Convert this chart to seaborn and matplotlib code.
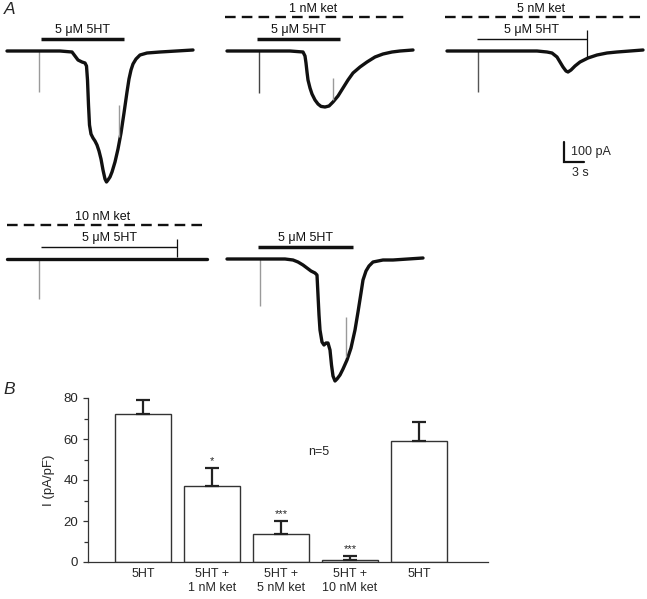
import matplotlib
matplotlib.use("Agg")
import matplotlib.pyplot as plt
import seaborn as sns
import pandas as pd

# =========================
# PANEL A DATA (time in s, current in pA, baseline = 0)
# =========================
t1 = [0, 7.95, 9.75, 10.2, 10.65, 11.25, 11.7, 11.925, 12.075, 12.225, 12.375, 12.6, 12.9, 13.2,
      13.5, 13.8, 14.1, 14.4, 14.7, 14.925, 15.15, 15.45, 15.75, 16.2, 16.65, 17.1, 17.55, 18.0,
      18.3, 18.6, 18.9, 19.35, 19.95, 21.0, 22.95, 27.9]
i1 = [0, 0, -5, -25, -45, -55, -60, -75, -145, -270, -370, -415, -435, -450,
      -470, -500, -540, -595, -640, -655, -645, -630, -605, -555, -490, -410, -310, -205,
      -140, -95, -65, -40, -20, -10, -5, 5]

t2 = [0, 9.45, 11.4, 11.7, 11.85, 12.0, 12.15, 12.45, 12.75, 13.2, 13.65, 14.1, 14.7, 15.3,
      15.9, 16.65, 17.4, 18.15, 18.9, 19.95, 21.0, 22.2, 23.4, 24.75, 25.95, 27.9]
i2 = [0, 0, -5, -25, -60, -105, -145, -185, -215, -245, -265, -277, -280, -275,
      -255, -225, -185, -145, -110, -80, -55, -30, -15, -5, 0, 5]

t3 = [0, 13.5, 15.0, 15.75, 16.5, 16.95, 17.4, 17.85, 18.15, 18.6, 19.2, 19.95, 21.15, 22.5,
      24.0, 25.5, 29.4]
i3 = [0, 0, -5, -10, -30, -55, -80, -100, -105, -95, -75, -55, -35, -20,
      -10, -5, 5]

t4 = [0, 10.0, 20.0, 30.0]
i4 = [0, 0, 0, 0]

t5 = [0, 8.7, 9.9, 10.65, 11.4, 12.0, 12.6, 13.2, 13.5, 13.65, 13.8, 13.95, 14.25, 14.55,
      14.85, 15.15, 15.45, 15.675, 15.9, 16.2, 16.5, 16.95, 17.4, 18.0, 18.6, 19.2, 19.65,
      20.1, 20.4, 20.85, 21.3, 21.9, 23.4, 24.9, 29.4]
i5 = [0, 0, -5, -15, -30, -45, -60, -70, -80, -180, -280, -355, -415, -430,
      -420, -420, -455, -530, -585, -610, -600, -580, -550, -505, -445, -355, -265,
      -170, -105, -60, -35, -15, -5, -5, 5]

traces_t = [t1, t2, t3, t4, t5]
traces_i = [i1, i2, i3, i4, i5]

# 5HT application
ht_on = [5.1, 4.5, 4.5, 5.1, 4.65]
ht_off = [17.55, 16.95, 21.0, 25.5, 18.9]
ht_thick = [True, True, False, False, True]
end_tick_top = [None, None, 105, 100, None]
end_tick_bot = [None, None, -30, 10, None]

# ketanserin
ket_labels = [None, "1 nM ket", "5 nM ket", "10 nM ket", None]
ket_on = [None, -0.3, -0.3, 0.0, None]
ket_off = [None, 27.15, 29.4, 29.55, None]

# stimulus artefacts
art1_t = [4.8, 4.8, 4.65, 4.8, 4.95]
art1_bot = [-205, -210, -205, -200, -235]
art1_col = ["#9a9a9a", "#444444", "#555555", "#9a9a9a", "#9a9a9a"]
art2_t = [16.8, 15.9, None, None, 17.85]
art2_top = [-270, -135, None, None, -290]
art2_bot = [-430, -245, None, None, -490]

scale_s = 3
scale_pa = 100

# =========================
# PANEL B DATA
# =========================
conditions = ["5HT", "5HT +\n1 nM ket", "5HT +\n5 nM ket", "5HT +\n10 nM ket", "5HT"]
current = [72.3, 37.1, 13.7, 0.8, 59.0]
sem = [6.8, 8.8, 6.3, 2.2, 9.3]
stars = ["", "*", "***", "***", ""]

# =========================
# FIGURE
# =========================
sns.set_style("white")
plt.rcParams['font.family'] = ['Liberation Sans', 'DejaVu Sans']

W, H = 647, 599
fig = plt.figure(figsize=(W / 100, H / 100), dpi=100)

S_PER_PX = 0.15
PA_PER_PX = 5.0
trace_pos = [(7, 51), (227, 51), (447, 51), (7, 259), (227, 259)]
INK = "#111111"


def trace_axes(x_start, y_base):
    x0, x1 = x_start - 10, x_start + 215
    y0, y1 = y_base - 60, y_base + 140
    ax = fig.add_axes([x0 / W, 1 - y1 / H, (x1 - x0) / W, (y1 - y0) / H])
    ax.set_xlim((x0 - x_start) * S_PER_PX, (x1 - x_start) * S_PER_PX)
    ax.set_ylim(-(y1 - y_base) * PA_PER_PX, (y_base - y0) * PA_PER_PX)
    ax.axis("off")
    return ax


trace_ax = []
for k in range(5):
    ax = trace_axes(*trace_pos[k])
    trace_ax.append(ax)

    # artefacts
    ax.vlines(art1_t[k], art1_bot[k], 0, color=art1_col[k], lw=1.0, zorder=1)
    if art2_t[k] is not None:
        ax.vlines(art2_t[k], art2_bot[k], art2_top[k], color="#9a9a9a", lw=1.0, zorder=3)

    df = pd.DataFrame({"t": traces_t[k], "I": traces_i[k]})
    sns.lineplot(data=df, x="t", y="I", ax=ax, color=INK, lw=2.4,
                 estimator=None, sort=False, zorder=2)
    ax.lines[-1].set_solid_joinstyle("round")
    ax.set_xlabel("")
    ax.set_ylabel("")

    # 5HT bar
    bar_y = 60
    ax.hlines(bar_y, ht_on[k], ht_off[k], color=INK, lw=2.5 if ht_thick[k] else 1.0)
    if end_tick_top[k] is not None:
        ax.vlines(ht_off[k], end_tick_bot[k], end_tick_top[k], color=INK, lw=0.9, zorder=3)
    ax.text((ht_on[k] + ht_off[k]) / 2, bar_y + 45, "5 μM 5HT", ha="center", va="center",
            fontsize=9, color=INK)

    # ketanserin dashed line
    if ket_labels[k] is not None:
        ax.plot([ket_on[k], ket_off[k]], [170, 170], color=INK, lw=1.7,
                linestyle=(0, (4.5, 2.6)), solid_capstyle="butt")
        ax.text((ket_on[k] + ket_off[k]) / 2 - 0.5, 212, ket_labels[k], ha="center",
                va="center", fontsize=9, color=INK)

# scale bar in the third trace's axes
ax = trace_ax[2]
sx, sy = 17.55, -555
ax.plot([sx, sx, sx + scale_s], [sy + scale_pa, sy, sy], color=INK, lw=1.6,
        solid_joinstyle="miter")
ax.text(sx + 1.0, sy + scale_pa / 2, f"{scale_pa} pA", ha="left", va="center", fontsize=9)
ax.text(sx + 2.4, sy - 55, f"{scale_s} s", ha="center", va="center", fontsize=9)

fig.text(4 / W, 1 - 10 / H, "A", fontsize=12.5, style="italic", ha="left", va="center")
fig.text(3 / W, 1 - 389 / H, "B", fontsize=12.5, style="italic", ha="left", va="center")

# =========================
# PANEL B
# =========================
axb = fig.add_axes([88 / W, 1 - 562 / H, 400 / W, 164 / H])
axb.set_facecolor("none")
pos = list(range(len(conditions)))
dfb = pd.DataFrame({"pos": pos, "current": current})
sns.barplot(data=dfb, x="pos", y="current", ax=axb, color="white", width=0.81,
            edgecolor="#333333", linewidth=1.0, errorbar=None, zorder=2)
axb.errorbar(pos, current, yerr=[[0] * len(sem), sem], fmt="none", ecolor="#222222",
             elinewidth=1.6, capsize=5, capthick=1.6, zorder=3)
for x, m, s, st in zip(pos, current, sem, stars):
    if st:
        axb.text(x, m + s + 2, st, ha="center", va="baseline", fontsize=8)
axb.text(2.55, 53.7, "n=5", ha="center", va="center", fontsize=9)

axb.set_xlim(-0.8, 5.0)
axb.set_ylim(0, 80)
axb.set_yticks([0, 20, 40, 60, 80])
axb.set_yticks([10, 30, 50, 70], minor=True)
axb.set_xticks(pos)
axb.set_xticklabels(conditions, fontsize=9, linespacing=1.3)
axb.tick_params(axis="y", which="major", length=3.6, width=0.9, pad=3.5,
                labelsize=9.5, left=True, color="#333333")
axb.tick_params(axis="y", which="minor", length=3.0, width=0.9, left=True, color="#333333")
axb.tick_params(axis="x", length=0, pad=4)
axb.set_xlabel("")
axb.set_ylabel("I (pA/pF)", fontsize=9.5, labelpad=6)
sns.despine(ax=axb)
for side in ["left", "bottom"]:
    axb.spines[side].set_linewidth(0.9)
    axb.spines[side].set_color("#333333")

fig.savefig("out.png", dpi=100)
